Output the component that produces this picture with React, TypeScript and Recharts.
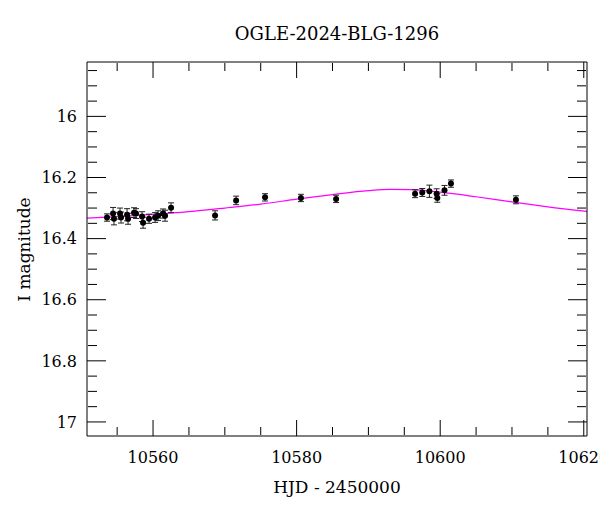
import { ComposedChart, Scatter, Line, XAxis, YAxis, ErrorBar, Label } from 'recharts'

// observed points (HJD - 2450000, I mag, error)
const obsHjd = [
  10553.59, 10554.43, 10554.56, 10555.4, 10555.54, 10556.38, 10556.52, 10557.35, 10557.63,
  10558.47, 10558.61, 10559.44, 10560.28, 10560.7, 10561.39, 10561.67, 10562.51,
  10568.64, 10571.57, 10575.6, 10580.6, 10585.5,
  10596.5, 10597.5, 10598.5, 10599.5, 10599.6, 10600.6, 10601.5, 10610.55,
]
const obsMag = [
  16.331, 16.318, 16.335, 16.318, 16.331, 16.322, 16.335, 16.315, 16.318,
  16.328, 16.348, 16.335, 16.331, 16.325, 16.318, 16.325, 16.299,
  16.324, 16.275, 16.265, 16.267, 16.27,
  16.253, 16.249, 16.245, 16.253, 16.267, 16.242, 16.22, 16.273,
]
const obsErr = [
  0.012, 0.02, 0.02, 0.018, 0.018, 0.02, 0.018, 0.016, 0.016,
  0.016, 0.018, 0.015, 0.016, 0.016, 0.015, 0.018, 0.016,
  0.015, 0.014, 0.012, 0.012, 0.012,
  0.013, 0.013, 0.02, 0.016, 0.014, 0.016, 0.012, 0.013,
]

// model curve
const modelHjd = [10550.8, 10555, 10560, 10565, 10570, 10575, 10580, 10585, 10590, 10593, 10596, 10600, 10605, 10610, 10615, 10620.45]
const modelMag = [16.333, 16.328, 16.321, 16.312, 16.3, 16.287, 16.271, 16.256, 16.243, 16.239, 16.24, 16.248, 16.263, 16.28, 16.296, 16.311]

const xMajor = [10560, 10580, 10600, 10620]
const xMinor = [10555, 10565, 10570, 10575, 10585, 10590, 10595, 10605, 10610, 10615]
const yMajor = [16, 16.2, 16.4, 16.6, 16.8, 17]
const yMinor = [
  15.85, 15.9, 15.95, 16.05, 16.1, 16.15, 16.25, 16.3, 16.35, 16.45, 16.5, 16.55,
  16.65, 16.7, 16.75, 16.85, 16.9, 16.95,
]

const X_DOMAIN: [number, number] = [10550.8, 10620.45]
const Y_DOMAIN: [number, number] = [15.822, 17.046]
const FONT = 'DejaVu Serif'

const points = obsHjd.map((x, i) => ({ x, y: obsMag[i], err: obsErr[i] }))
const model = modelHjd.map((x, i) => ({ x, y: modelMag[i] }))

const blank = () => ''
const tickFont = { fontSize: 16, fill: '#000', fontFamily: FONT }
const line = { stroke: '#000' }

export default function App() {
  return (
    <div style={{ position: 'absolute', left: 0, top: 0, width: 600, height: 512, background: '#fff' }}>
      <div style={{ position: 'absolute', left: 37, top: 25, width: 600, textAlign: 'center', fontFamily: FONT, fontSize: 18, lineHeight: '18px' }}>
        OGLE-2024-BLG-1296
      </div>
      <div style={{ position: 'absolute', left: 24 - 100, top: 249 - 8.5, width: 200, textAlign: 'center', fontFamily: FONT, fontSize: 17, lineHeight: '17px', transform: 'rotate(-90deg)' }}>
        I magnitude
      </div>
      <ComposedChart width={600} height={512} margin={{ top: 62, right: 13, bottom: 16, left: 0 }}>
        {/* labelled axes */}
        <XAxis xAxisId="b" dataKey="x" type="number" domain={X_DOMAIN} allowDataOverflow ticks={xMajor} interval={0}
          height={60} tickSize={0} tickLine={false} tickMargin={16} tick={tickFont} axisLine={line}>
          <Label value="HJD - 2450000" position="insideBottom" offset={3.5} style={{ fontFamily: FONT, fontSize: 17, fill: '#000' }} />
        </XAxis>
        <YAxis yAxisId="l" dataKey="y" type="number" domain={Y_DOMAIN} allowDataOverflow reversed ticks={yMajor} interval={0}
          width={87} tickSize={0} tickLine={false} tickMargin={10} tick={tickFont} axisLine={line} />

        {/* inward tick marks on all four sides */}
        <XAxis xAxisId="bM" dataKey="x" type="number" domain={X_DOMAIN} allowDataOverflow ticks={xMajor} interval={0} mirror height={1}
          tickSize={16} tickLine={line} tickFormatter={blank} axisLine={false} />
        <XAxis xAxisId="bm" dataKey="x" type="number" domain={X_DOMAIN} allowDataOverflow ticks={xMinor} interval={0} mirror height={1}
          tickSize={8} tickLine={line} tickFormatter={blank} axisLine={false} />
        <XAxis xAxisId="tM" dataKey="x" orientation="top" type="number" domain={X_DOMAIN} allowDataOverflow ticks={xMajor} interval={0} mirror height={1}
          tickSize={16} tickLine={line} tickFormatter={blank} axisLine={line} />
        <XAxis xAxisId="tm" dataKey="x" orientation="top" type="number" domain={X_DOMAIN} allowDataOverflow ticks={xMinor} interval={0} mirror height={1}
          tickSize={8} tickLine={line} tickFormatter={blank} axisLine={false} />
        <YAxis yAxisId="lM" dataKey="y" type="number" domain={Y_DOMAIN} allowDataOverflow reversed ticks={yMajor} interval={0} mirror width={1}
          tickSize={19} tickLine={line} tickFormatter={blank} axisLine={false} />
        <YAxis yAxisId="lm" dataKey="y" type="number" domain={Y_DOMAIN} allowDataOverflow reversed ticks={yMinor} interval={0} mirror width={1}
          tickSize={9} tickLine={line} tickFormatter={blank} axisLine={false} />
        <YAxis yAxisId="rM" dataKey="y" orientation="right" type="number" domain={Y_DOMAIN} allowDataOverflow reversed ticks={yMajor} interval={0} mirror width={1}
          tickSize={19} tickLine={line} tickFormatter={blank} axisLine={line} />
        <YAxis yAxisId="rm" dataKey="y" orientation="right" type="number" domain={Y_DOMAIN} allowDataOverflow reversed ticks={yMinor} interval={0} mirror width={1}
          tickSize={9} tickLine={line} tickFormatter={blank} axisLine={false} />

        <Line xAxisId="b" yAxisId="l" data={model} dataKey="y" type="monotone" stroke="#ff00ff" strokeWidth={1.2}
          dot={false} activeDot={false} isAnimationActive={false} />
        <Scatter xAxisId="b" yAxisId="l" data={points} dataKey="y" fill="#000" isAnimationActive={false}
          shape={(p: any) => <circle cx={p.cx} cy={p.cy} r={3} fill="#000" />}>
          <ErrorBar dataKey="err" direction="y" width={3} stroke="#222" strokeWidth={1} isAnimationActive={false} />
        </Scatter>
      </ComposedChart>
    </div>
  )
}
